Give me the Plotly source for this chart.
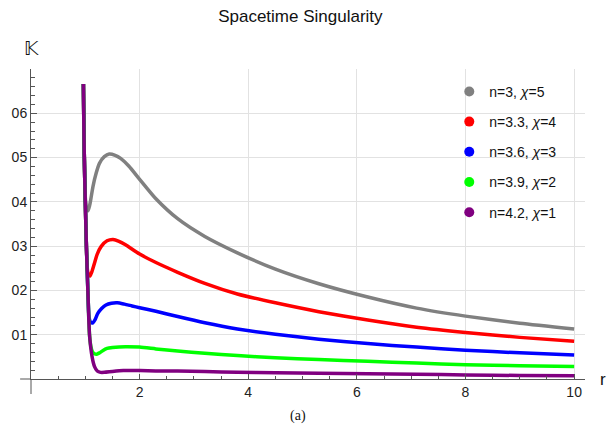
import plotly.graph_objects as go

# ---- data ----
gray_r = [0.965, 0.975, 0.99, 1.0, 1.02, 1.05, 1.08, 1.1, 1.14, 1.2, 1.26, 1.35, 1.44, 1.55, 1.65, 1.8, 2.0, 2.3, 2.7, 3.2, 3.8, 4.5, 5.3, 6.2, 7.1, 8.0, 9.0, 10.0]
gray_k = [0.0666, 0.055, 0.045, 0.041, 0.0385, 0.0380, 0.0392, 0.0405, 0.0434, 0.0465, 0.0487, 0.0502, 0.0508, 0.0505, 0.0498, 0.0481, 0.0451, 0.0407, 0.0362, 0.0322, 0.0285, 0.0248, 0.0215, 0.0185, 0.0160, 0.0142, 0.0126, 0.0113]

red_r = [0.965, 0.975, 0.99, 1.0, 1.02, 1.04, 1.065, 1.09, 1.12, 1.167, 1.22, 1.29, 1.4, 1.51, 1.62, 1.74, 2.0, 2.3, 2.7, 3.2, 3.8, 4.5, 5.3, 6.2, 7.1, 8.0, 9.0, 10.0]
red_k = [0.0666, 0.055, 0.045, 0.04, 0.03, 0.0245, 0.0234, 0.0233, 0.0242, 0.0261, 0.0282, 0.0299, 0.0312, 0.0315, 0.0311, 0.0303, 0.0282, 0.0263, 0.0241, 0.0216, 0.0192, 0.0172, 0.0152, 0.0133, 0.0117, 0.0105, 0.0094, 0.0085]

blue_r = [0.965, 0.975, 0.99, 1.0, 1.02, 1.047, 1.07, 1.1, 1.14, 1.18, 1.23, 1.3, 1.38, 1.48, 1.59, 1.72, 1.86, 2.0, 2.3, 2.7, 3.2, 3.8, 4.5, 5.3, 6.2, 7.1, 8.0, 9.0, 10.0]
blue_k = [0.0666, 0.055, 0.045, 0.04, 0.03, 0.02, 0.0138, 0.0128, 0.0127, 0.0134, 0.0148, 0.0159, 0.0167, 0.0171, 0.0172, 0.0169, 0.0165, 0.0161, 0.0153, 0.0141, 0.0127, 0.0113, 0.0101, 0.0090, 0.0080, 0.0072, 0.0065, 0.0059, 0.0054]

green_r = [0.965, 0.975, 0.99, 1.0, 1.02, 1.047, 1.077, 1.1, 1.13, 1.17, 1.21, 1.26, 1.32, 1.4, 1.5, 1.74, 2.0, 2.3, 2.7, 3.2, 3.8, 4.5, 5.3, 6.2, 7.1, 8.0, 9.0, 10.0]
green_k = [0.0666, 0.055, 0.045, 0.04, 0.03, 0.02, 0.01, 0.0075, 0.0062, 0.0057, 0.0056, 0.0059, 0.0064, 0.0069, 0.0071, 0.0073, 0.0072, 0.0068, 0.0063, 0.0058, 0.0053, 0.0048, 0.0044, 0.0040, 0.0036, 0.0032, 0.0030, 0.0028]

purple_r = [0.965, 0.975, 0.99, 1.0, 1.02, 1.047, 1.077, 1.125, 1.17, 1.22, 1.28, 1.35, 1.5, 1.7, 2.0, 2.3, 2.7, 3.2, 3.8, 4.5, 5.3, 6.2, 7.1, 8.0, 9.0, 10.0]
purple_k = [0.0666, 0.055, 0.045, 0.04, 0.03, 0.02, 0.01, 0.005, 0.0028, 0.0018, 0.0015, 0.0015, 0.0017, 0.0019, 0.0019, 0.0018, 0.0018, 0.0017, 0.0015, 0.0014, 0.0013, 0.0012, 0.0011, 0.0009, 0.0008, 0.00075]

series_names = ["n=3, <i>χ</i>=5", "n=3.3, <i>χ</i>=4", "n=3.6, <i>χ</i>=3", "n=3.9, <i>χ</i>=2", "n=4.2, <i>χ</i>=1"]
series_colors = ["#808080", "#ff0000", "#0000ff", "#00ff00", "#800080"]
series_r = [gray_r, red_r, blue_r, green_r, purple_r]
series_k = [gray_k, red_k, blue_k, green_k, purple_k]

x_tickvals = [2, 4, 6, 8, 10]
x_ticktext = ["2", "4", "6", "8", "10"]
y_tickvals = [0.01, 0.02, 0.03, 0.04, 0.05, 0.06]
y_ticktext = ["01", "02", "03", "04", "05", "06"]

FONT = "Liberation Sans, Arial, sans-serif"
AXIS = "#555555"

fig = go.Figure()
for name, col, r, k in zip(series_names, series_colors, series_r, series_k):
    fig.add_trace(go.Scatter(x=r, y=k, mode="lines", showlegend=False,
                             line=dict(color=col, width=3.5, shape="spline", smoothing=0.6),
                             hoverinfo="skip"))
for i, (name, col) in enumerate(zip(series_names, series_colors)):
    fig.add_trace(go.Scatter(x=[None], y=[None], mode="markers", name=name,
                             legendgroup=f"g{i}",
                             marker=dict(color=col, size=10)))

fig.update_layout(
    width=613, height=427, autosize=False,
    margin=dict(l=24, r=28, t=69, b=48),
    paper_bgcolor="white", plot_bgcolor="white",
    font=dict(family=FONT, size=14, color="#222222"),
    title=dict(text="Spacetime Singularity", x=0.49, xanchor="center",
               y=1 - 16 / 427, yanchor="middle",
               font=dict(family=FONT, size=17, color="#111111")),
    legend=dict(x=0.755, xanchor="left", y=0.978, yanchor="top",
                bgcolor="rgba(255,255,255,0)", font=dict(family=FONT, size=14, color="#111111"),
                traceorder="grouped", tracegroupgap=9, itemclick=False),
    xaxis=dict(range=[0, 10.2], tickmode="array", tickvals=x_tickvals, ticktext=x_ticktext,
               showgrid=True, gridcolor="#e2e2e2", gridwidth=1,
               showline=True, linecolor=AXIS, linewidth=1,
               ticks="inside", ticklen=5, tickcolor=AXIS,
               minor=dict(tickmode="linear", tick0=0, dtick=0.5, ticks="inside", ticklen=3, tickcolor=AXIS, showgrid=False),
               zeroline=False, tickfont=dict(size=14, color="#222222")),
    yaxis=dict(range=[0, 0.07], tickmode="array", tickvals=y_tickvals, ticktext=y_ticktext,
               showgrid=True, gridcolor="#e2e2e2", gridwidth=1,
               showline=True, linecolor=AXIS, linewidth=1,
               ticks="inside", ticklen=6, tickcolor=AXIS, ticklabelstandoff=0,
               minor=dict(tickmode="linear", tick0=0, dtick=0.002, ticks="inside", ticklen=4, tickcolor=AXIS, showgrid=False),
               zeroline=False, tickfont=dict(size=14, color="#222222")),
    shapes=[
        dict(type="line", xref="paper", yref="paper", x0=-11 / 561, x1=0, y0=0, y1=0,
             line=dict(color=AXIS, width=1)),
        dict(type="line", xref="paper", yref="paper", x0=0, x1=0, y0=-15 / 310, y1=0,
             line=dict(color=AXIS, width=1)),
    ],
    annotations=[
        dict(text="𝕂", xref="paper", yref="paper", x=1 / 561, y=(379 - 48) / 310,
             showarrow=False, xanchor="center", yanchor="middle",
             font=dict(family="DejaVu Sans", size=19, color="#111111")),
        dict(text="r", xref="paper", yref="paper", x=(603 - 24) / 561, y=0,
             showarrow=False, xanchor="center", yanchor="middle",
             font=dict(family=FONT, size=17, color="#111111")),
        dict(text="(a)", xref="paper", yref="paper", x=(294 - 24) / 561, y=(379 - 416) / 310,
             showarrow=False, xanchor="center", yanchor="middle",
             font=dict(family="Liberation Serif, serif", size=14, color="#111111")),
    ],
)

fig.write_html("out.html", config={"displayModeBar": False, "staticPlot": True},
               post_script="document.body.style.margin='0';document.body.style.overflow='hidden';")
